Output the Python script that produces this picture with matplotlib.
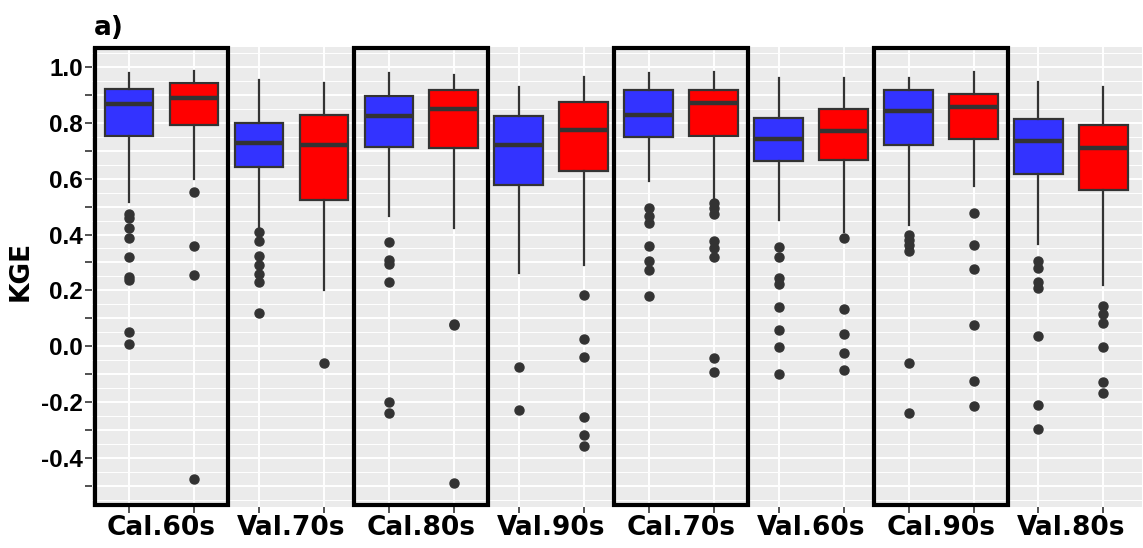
import numpy as np
import matplotlib
matplotlib.use("Agg")
import matplotlib.pyplot as plt
from matplotlib.patches import Rectangle

# ---- data ----
groups = ["Cal.60s", "Val.70s", "Cal.80s", "Val.90s", "Cal.70s", "Val.60s", "Cal.90s", "Val.80s"]
is_cal = [True, False, True, False, True, False, True, False]

# one entry per box: blue then red for each group
whislo = [0.515, 0.600, 0.428, 0.201, 0.466, 0.425, 0.264, 0.291,
          0.592, 0.523, 0.452, 0.410, 0.434, 0.574, 0.366, 0.221]
q1 = [0.752, 0.791, 0.642, 0.524, 0.714, 0.710, 0.576, 0.628,
      0.747, 0.753, 0.663, 0.667, 0.719, 0.740, 0.616, 0.559]
med = [0.865, 0.889, 0.726, 0.719, 0.822, 0.850, 0.719, 0.772,
       0.828, 0.871, 0.740, 0.770, 0.843, 0.856, 0.734, 0.710]
q3 = [0.919, 0.943, 0.800, 0.826, 0.896, 0.917, 0.824, 0.873,
      0.917, 0.917, 0.818, 0.850, 0.917, 0.902, 0.812, 0.792]
whishi = [0.976, 0.985, 0.952, 0.941, 0.979, 0.970, 0.928, 0.962,
          0.976, 0.980, 0.961, 0.961, 0.961, 0.980, 0.946, 0.926]
fliers = [
    [0.475, 0.458, 0.424, 0.388, 0.320, 0.249, 0.239, 0.050, 0.007],
    [0.553, 0.358, 0.255, -0.475],
    [0.410, 0.377, 0.323, 0.290, 0.258, 0.231, 0.121],
    [-0.059],
    [0.373, 0.308, 0.294, 0.229, -0.199, -0.237],
    [0.079, 0.075, -0.489],
    [-0.073, -0.228],
    [0.183, 0.028, -0.038, -0.252, -0.318, -0.357],
    [0.496, 0.467, 0.440, 0.360, 0.305, 0.273, 0.180],
    [0.511, 0.493, 0.475, 0.377, 0.350, 0.320, -0.040, -0.091],
    [0.356, 0.320, 0.243, 0.223, 0.141, 0.060, -0.004, -0.099],
    [0.386, 0.132, 0.044, -0.025, -0.083],
    [0.400, 0.380, 0.362, 0.342, -0.061, -0.237],
    [0.478, 0.362, 0.276, 0.078, -0.125, -0.214],
    [0.305, 0.279, 0.231, 0.209, 0.038, -0.208, -0.294],
    [0.144, 0.115, 0.084, -0.002, -0.127, -0.166],
]
box_colors = ["#3333FF", "#FF0000"] * len(groups)

# ---- figure ----
plt.rcParams["font.family"] = "DejaVu Sans"
plt.rcParams["font.weight"] = "bold"

fig = plt.figure(figsize=(11.43, 5.48), dpi=100)
ax = fig.add_axes([0.0805, 0.075, 0.9190, 0.839])
ax.set_facecolor("#EBEBEB")

positions = np.arange(1, len(q1) + 1)
stats = []
for i in range(len(q1)):
    stats.append(dict(whislo=whislo[i], q1=q1[i], med=med[i], q3=q3[i],
                      whishi=whishi[i], fliers=fliers[i]))

edge = "#333333"
bp = ax.bxp(stats, positions=positions, widths=0.75, patch_artist=True,
            showcaps=False,
            boxprops=dict(edgecolor=edge, linewidth=1.6),
            medianprops=dict(color=edge, linewidth=3.2, solid_capstyle="butt"),
            whiskerprops=dict(color=edge, linewidth=1.6),
            flierprops=dict(marker="o", markerfacecolor=edge, markeredgecolor=edge,
                            markersize=6.5, linestyle="none"),
            zorder=3)
for patch, c in zip(bp["boxes"], box_colors):
    patch.set_facecolor(c)

ylo, yhi = -0.574, 1.070
ax.set_ylim(ylo, yhi)
ax.set_xlim(0.43, 16.6)

# grid like ggplot
yt = np.round(np.arange(-0.5, 1.01, 0.1), 2)
for y in yt:
    ax.axhline(y, color="white", linewidth=1.4, zorder=0)
for y in np.arange(-0.55, 1.06, 0.1):
    ax.axhline(y, color="white", linewidth=0.7, zorder=0)
for x in positions:
    ax.axvline(x, color="white", linewidth=1.4, zorder=0)


def ylab(v):
    if round(v * 10) % 2 != 0:
        return ""
    return f"{abs(v):.1f}" if abs(v) < 1e-9 else f"{v:.1f}"


ax.set_yticks(yt)
ax.set_yticklabels([ylab(v) for v in yt], family="Liberation Sans",
                   fontweight="bold", fontsize=17.5)
ax.tick_params(axis="y", length=5, width=1.2, color=edge, pad=1.5)

ax.set_xticks(positions)
ax.set_xticklabels([""] * len(positions))
ax.tick_params(axis="x", which="major", length=4.5, width=1.2, color=edge)
ax.set_xticks(np.arange(1.5, 16, 2), minor=True)
ax.set_xticklabels(groups, minor=True, fontsize=19, fontweight="bold")
ax.tick_params(axis="x", which="minor", length=0, pad=6)

for s in ax.spines.values():
    s.set_visible(False)

# boxes around the calibration groups
for k, cal in enumerate(is_cal):
    if cal:
        c = 1.5 + 2 * k
        ax.add_patch(Rectangle((c - 1.03, -0.568), 2.06, 1.636, fill=False,
                               edgecolor="black", linewidth=3, zorder=5,
                               clip_on=False))

fig.text(21 / 1143, 1 - 271 / 548, "KGE", rotation=90, fontsize=19,
         fontweight="bold", ha="center", va="center")
fig.text(94 / 1143, 1 - 35 / 548, "a)", fontsize=19, fontweight="bold",
         ha="left", va="baseline")

fig.savefig("out.png", dpi=100)
